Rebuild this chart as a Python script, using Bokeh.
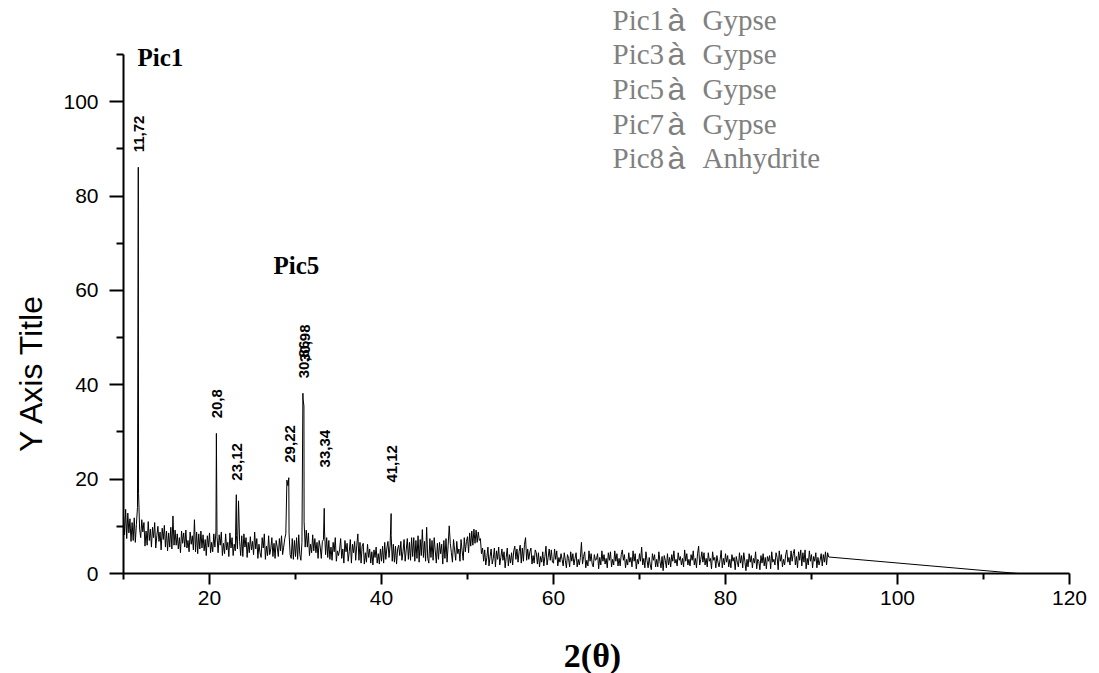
import numpy as np
from bokeh.plotting import figure
from bokeh.models import Range1d, FixedTicker, ColumnDataSource
from bokeh.core.properties import value
from bokeh.embed import file_html
from bokeh.resources import INLINE

# ---------------- data ----------------
# diffractogram background: one row per degree 2-theta, 0.125 deg steps
counts_10s = [
    [12.5, 8.2, 13.6, 7.4, 12.8, 8.6, 11.6, 6.8],
    [10.8, 7.0, 11.8, 6.6, 10.4, 14.0, 17.0, 9.4],
    [7.6, 11.4, 8.8, 10.8, 5.8, 9.0, 6.0, 11.0],
    [7.0, 9.4, 5.6, 9.8, 7.6, 10.8, 5.4, 8.0],
    [10.0, 6.8, 8.8, 5.0, 9.6, 7.2, 10.2, 5.6],
    [9.0, 4.8, 8.6, 5.6, 9.8, 5.2, 12.2, 6.0],
    [9.2, 6.0, 8.4, 5.2, 7.6, 4.4, 9.0, 6.4],
    [8.6, 5.6, 9.2, 5.4, 7.0, 4.6, 8.8, 6.2],
    [8.0, 5.0, 11.4, 4.6, 8.8, 4.2, 8.4, 5.2],
    [9.0, 5.4, 8.2, 4.8, 7.2, 3.8, 8.0, 5.6],
]
counts_20s = [
    [8.6, 4.4, 6.6, 4.6, 8.4, 5.6, 9.0, 7.8],
    [4.4, 8.2, 6.0, 8.8, 3.8, 6.4, 4.2, 8.4],
    [5.0, 6.6, 3.6, 8.6, 5.4, 7.6, 3.8, 6.2],
    [4.8, 8.0, 5.2, 15.4, 6.8, 3.8, 8.0, 3.6],
    [8.4, 5.6, 7.6, 3.4, 6.6, 4.4, 7.8, 5.0],
    [6.8, 4.0, 8.8, 5.2, 7.4, 3.2, 6.2, 4.4],
    [3.4, 7.6, 5.4, 8.4, 3.0, 5.8, 3.8, 8.0],
    [4.0, 5.2, 7.6, 3.6, 6.4, 3.2, 7.0, 5.6],
    [3.6, 7.4, 4.8, 8.0, 4.0, 5.6, 7.4, 8.4],
    [19.8, 18.6, 8.6, 4.0, 3.2, 7.4, 3.0, 7.0],
]
counts_30s = [
    [3.6, 7.6, 3.0, 8.2, 4.0, 2.8, 6.6, 37.0],
    [11.0, 5.6, 9.2, 5.6, 8.6, 3.8, 6.2, 4.4],
    [8.2, 4.8, 7.4, 4.4, 6.6, 3.2, 7.0, 5.6],
    [3.2, 6.8, 7.2, 9.0, 4.0, 7.6, 3.4, 7.0],
    [3.0, 5.6, 2.8, 6.6, 4.6, 7.6, 2.6, 4.8],
    [3.8, 5.0, 7.4, 3.2, 5.2, 2.2, 7.0, 4.6],
    [6.4, 2.6, 4.6, 7.2, 2.2, 6.2, 4.4, 6.8],
    [2.8, 6.0, 8.4, 2.8, 6.6, 2.2, 5.8, 6.4],
    [2.0, 4.4, 2.4, 6.2, 3.4, 5.2, 2.2, 4.6],
    [1.8, 5.0, 3.4, 5.6, 2.2, 4.2, 2.0, 5.2],
]
counts_40s = [
    [2.6, 5.8, 2.2, 6.6, 3.0, 5.4, 6.8, 3.4],
    [6.0, 8.0, 2.6, 6.2, 2.4, 5.8, 2.0, 5.2],
    [6.0, 3.8, 6.8, 2.8, 4.6, 7.2, 2.6, 5.0],
    [7.4, 3.0, 6.6, 2.8, 7.6, 3.6, 7.6, 2.6],
    [7.0, 3.2, 8.0, 2.4, 7.2, 3.8, 9.3, 3.4],
    [6.8, 2.6, 9.8, 3.2, 2.2, 7.4, 3.4, 7.0],
    [2.8, 7.6, 4.8, 2.2, 6.4, 3.0, 6.6, 4.2],
    [6.2, 2.0, 7.0, 3.2, 7.4, 2.4, 6.0, 10.1],
    [6.4, 4.4, 2.4, 7.2, 5.0, 2.8, 6.8, 4.2],
    [5.2, 2.6, 7.2, 4.8, 2.8, 7.6, 4.6, 6.8],
]
counts_50s = [
    [7.8, 4.4, 8.6, 5.8, 9.0, 6.0, 9.4, 6.4],
    [9.2, 6.6, 8.8, 7.0, 7.4, 4.2, 5.4, 2.6],
    [5.0, 1.8, 3.4, 5.6, 1.6, 3.6, 5.2, 2.0],
    [3.2, 5.4, 1.4, 4.8, 3.0, 5.6, 1.8, 3.4],
    [5.2, 2.8, 4.6, 1.2, 3.4, 5.4, 1.6, 4.0],
    [2.2, 4.4, 1.8, 4.8, 5.8, 3.0, 5.2, 2.4],
    [4.6, 6.0, 2.2, 5.4, 2.6, 6.2, 7.6, 2.8],
    [5.2, 3.0, 4.6, 5.4, 2.0, 3.8, 2.2, 5.0],
    [4.4, 2.0, 4.4, 1.4, 3.6, 2.4, 4.6, 1.6],
    [3.6, 5.8, 1.8, 3.4, 5.2, 2.8, 5.0, 2.4],
]
counts_60s = [
    [2.2, 5.2, 3.0, 4.8, 1.6, 3.4, 2.4, 4.2],
    [3.0, 1.6, 4.4, 2.8, 1.2, 4.0, 3.2, 1.4],
    [4.6, 2.6, 4.2, 1.8, 3.2, 4.4, 1.4, 3.0],
    [1.8, 3.4, 6.6, 2.0, 3.6, 4.6, 1.2, 2.8],
    [1.6, 4.8, 2.6, 4.2, 2.0, 1.4, 4.0, 2.8],
    [3.0, 4.2, 1.0, 3.4, 1.8, 4.8, 2.6, 4.0],
    [2.0, 3.2, 1.2, 4.4, 2.8, 4.6, 1.4, 3.0],
    [1.8, 4.8, 2.6, 4.2, 1.6, 3.2, 1.6, 4.0],
    [5.0, 2.8, 4.0, 1.2, 3.0, 1.8, 4.4, 2.4],
    [3.4, 1.4, 4.8, 2.6, 4.2, 1.0, 3.0, 2.0],
]
counts_70s = [
    [4.2, 2.6, 5.6, 1.8, 3.2, 1.2, 4.6, 2.8],
    [1.2, 3.4, 1.8, 0.8, 4.2, 2.8, 4.0, 1.4],
    [3.0, 1.4, 4.6, 2.6, 1.2, 3.6, 0.6, 3.8],
    [2.8, 1.2, 4.2, 1.8, 3.4, 1.4, 4.0, 2.6],
    [4.8, 2.2, 3.0, 1.6, 4.4, 2.8, 3.6, 1.8],
    [3.2, 1.4, 5.0, 2.6, 4.2, 1.8, 3.0, 1.6],
    [4.0, 2.8, 4.8, 1.8, 3.2, 1.2, 4.2, 5.8],
    [1.8, 3.0, 4.6, 2.4, 4.4, 1.8, 3.2, 1.4],
    [4.4, 2.6, 3.2, 1.0, 4.6, 2.8, 3.4, 1.2],
    [3.8, 2.4, 1.4, 3.0, 4.9, 1.2, 3.2, 1.8],
]
counts_80s = [
    [4.2, 2.4, 3.8, 1.4, 3.0, 1.2, 4.0, 2.6],
    [3.4, 0.8, 3.6, 2.4, 1.4, 4.4, 2.2, 3.8],
    [1.2, 4.4, 2.6, 0.6, 3.0, 1.4, 4.2, 2.4],
    [3.8, 1.2, 3.2, 2.2, 4.6, 1.0, 3.0, 2.6],
    [0.8, 3.8, 2.2, 4.2, 1.6, 3.4, 1.0, 3.6],
    [2.6, 3.8, 1.0, 4.6, 2.4, 3.0, 1.8, 4.4],
    [3.4, 0.8, 4.8, 2.6, 4.0, 1.4, 3.0, 1.8],
    [4.0, 5.0, 2.4, 3.4, 1.8, 4.8, 2.6, 4.2],
    [5.1, 1.8, 3.6, 1.2, 4.6, 2.8, 5.0, 1.6],
    [4.4, 2.4, 5.0, 1.0, 3.2, 1.8, 4.8, 2.6],
]
counts_90s = [
    [4.0, 1.2, 3.6, 2.6, 4.4, 1.2, 3.4, 1.8],
    [2.8, 4.2, 1.6, 4.0, 2.4, 4.6, 1.8, 4.4],
    [3.5],
]
scan_step = 0.125

# indexed reflections
peak_pos = [11.72, 20.8, 23.12, 29.22, 30.86, 30.98, 33.34, 41.12]
peak_height = [86.1, 29.7, 16.7, 20.3, 38.2, 35.5, 13.8, 12.7]
peak_labels = ["11,72", "20,8", "23,12", "29,22", "30,86", "30,98", "33,34", "41,12"]

# end of the recorded trace
tail_pos = [114.0]
tail_height = [0.0]

legend_peaks = ["Pic1", "Pic3", "Pic5", "Pic7", "Pic8"]
legend_phases = ["Gypse", "Gypse", "Gypse", "Gypse", "Anhydrite"]

x_ticks = [20, 40, 60, 80, 100, 120]
x_minor = [10, 30, 50, 70, 90, 110]
y_ticks = [0, 20, 40, 60, 80, 100]
y_minor = [10, 30, 50, 70, 90, 110]

# ---------------- geometry ----------------
W, H = 1099, 673
AX_LEFT, AX_RIGHT, AX_TOP, AX_BOTTOM = 123, 1069, 54, 573   # pixel box of the axes
X0, X1, Y0, Y1 = 10, 120, 0, 110
sx = (X1 - X0) / (AX_RIGHT - AX_LEFT)      # data units per pixel
sy = (Y1 - Y0) / (AX_BOTTOM - AX_TOP)


def data_x(px):
    return X0 + (px - AX_LEFT) * sx


def data_y(py):
    return Y0 + (AX_BOTTOM - py) * sy


# ---------------- trace ----------------
xs, ys = [], []
for first_deg, rows in ((10, counts_10s), (20, counts_20s), (30, counts_30s),
                        (40, counts_40s), (50, counts_50s), (60, counts_60s),
                        (70, counts_70s), (80, counts_80s), (90, counts_90s)):
    for i, row in enumerate(rows):
        for j, c in enumerate(row):
            xs.append(first_deg + i + j * scan_step)
            ys.append(c)
xs = np.array(xs + peak_pos + tail_pos)
ys = np.array(ys + peak_height + tail_height)
order = np.argsort(xs, kind="stable")
trace = ColumnDataSource(dict(x=xs[order], y=ys[order]))

p = figure(width=W, height=H, output_backend="svg", toolbar_location=None,
           x_range=Range1d(data_x(0), data_x(W)),
           y_range=Range1d(data_y(H), data_y(0)),
           min_border=0, min_border_left=0, min_border_right=0,
           min_border_top=0, min_border_bottom=0)
p.outline_line_color = None
p.xgrid.visible = False
p.ygrid.visible = False
p.background_fill_color = "white"
p.border_fill_color = "white"

p.line("x", "y", source=trace, line_color="black", line_width=1)

# axes, crossing at (10, 0)
for ax in (p.xaxis[0], p.yaxis[0]):
    ax.axis_line_width = 2
    ax.axis_line_color = "black"
    ax.major_tick_line_width = 2
    ax.minor_tick_line_width = 2
    ax.major_tick_in = 0
    ax.minor_tick_in = 0
    ax.major_label_text_font = "Liberation Sans"
    ax.major_label_text_color = "black"

p.xaxis.fixed_location = Y0
p.xaxis.bounds = (X0, X1)
p.xaxis.ticker = FixedTicker(ticks=x_ticks, minor_ticks=x_minor)
p.xaxis.major_tick_out = 11
p.xaxis.minor_tick_out = 6
p.xaxis.major_label_text_font_size = "21px"
p.xaxis.major_label_standoff = 6

p.yaxis.fixed_location = X0
p.yaxis.bounds = (Y0, Y1)
p.yaxis.ticker = FixedTicker(ticks=y_ticks, minor_ticks=y_minor)
p.yaxis.major_tick_out = 14
p.yaxis.minor_tick_out = 7
p.yaxis.major_label_text_font_size = "21px"
p.yaxis.major_label_standoff = 11

# axis titles
p.text(x=[data_x(592)], y=[data_y(655)], text=["2(θ)"],
       text_font=value("Liberation Serif"), text_font_style="bold",
       text_font_size="34px", text_align="center", text_baseline="middle",
       text_color="black")
p.text(x=[data_x(30)], y=[data_y(372)], text=["Y Axis Title"], angle=np.pi / 2,
       text_font=value("Liberation Sans"), text_font_size="32px",
       text_align="center", text_baseline="middle", text_color="black")

# peak positions written above the reflections
label_lift = np.array([15, 15, 14, 15, 15, 44, 41, 31]) * sy
label_y = np.array(peak_height) + label_lift
p.text(x=[v + 0.12 for v in peak_pos], y=label_y, text=peak_labels,
       angle=np.pi / 2, text_align="left", text_baseline="middle",
       text_font=value("Liberation Sans"), text_font_style="bold",
       text_font_size="15px", text_color="black")

# peak names
p.text(x=[data_x(137), data_x(273)], y=[data_y(57), data_y(265)],
       text=["Pic1", "Pic5"], text_font=value("Liberation Serif"),
       text_font_style="bold", text_font_size="25px",
       text_baseline="alphabetic", text_align="left", text_color="black")

# phase identification list
row_base = [data_y(v) for v in (19.0, 53.7, 88.4, 123.1, 157.8)]
p.text(x=[data_x(612)] * 5, y=row_base, text=legend_peaks,
       text_font=value("Liberation Serif"), text_font_size="29px",
       text_baseline="alphabetic", text_align="left", text_color="#808080")
p.text(x=[data_x(676)] * 5, y=row_base, text=["à"] * 5,
       text_font=value("Liberation Sans"), text_font_size="32px",
       text_baseline="alphabetic", text_align="center", text_color="#808080")
p.text(x=[data_x(702)] * 5, y=row_base, text=legend_phases,
       text_font=value("Liberation Serif"), text_font_size="29px",
       text_baseline="alphabetic", text_align="left", text_color="#808080")

open("out.html", "w").write(file_html(p, INLINE))
